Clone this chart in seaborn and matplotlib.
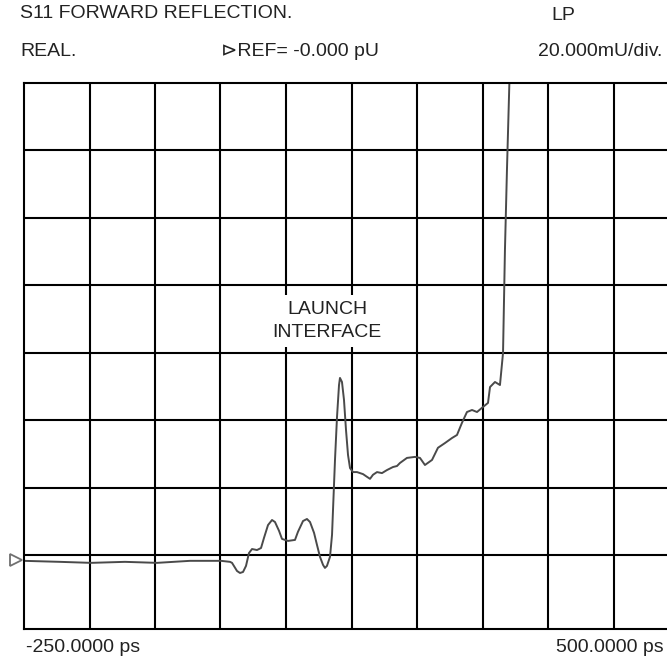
import matplotlib
matplotlib.use('Agg')
import matplotlib.pyplot as plt
import seaborn as sns
import pandas as pd

# trace: time in ps, real part in mU
time_ps = [-250.0, -208.8, -173.3, -134.4, -97.7, -59.9, -24.4, -14.1, -11.8, -6.1,
           -2.7, 0.8, 4.2, 7.6, 11.1, 16.8, 21.4, 24.8, 29.4, 34.0,
           37.4, 42.0, 45.4, 52.3, 60.3, 63.7, 69.5, 74.0, 77.5, 82.1,
           85.5, 88.9, 92.4, 94.6, 96.9, 100.4, 102.7, 106.1, 108.4, 110.7,
           111.8, 114.1, 116.4, 118.7, 121.0, 123.3, 126.7, 131.3, 138.2, 142.7,
           146.2, 149.6, 154.2, 159.9, 165.6, 172.5, 177.1, 180.5, 188.5, 197.7,
           203.4, 209.1, 217.2, 224.0, 232.0, 240.1, 245.8, 251.5, 257.2, 263.0,
           268.7, 275.6, 281.3, 283.6, 289.3, 295.0, 298.5, 300.7, 303.0, 306.5]
real_mU = [-1.6, -1.9, -2.2, -1.9, -2.2, -1.6, -1.6, -1.9, -2.2, -4.6,
           -5.2, -4.9, -3.1, 0.7, 1.9, 1.6, 2.2, 5.2, 9.0, 10.5,
           9.9, 7.3, 4.9, 4.3, 4.6, 7.0, 10.2, 10.8, 9.9, 6.7,
           3.1, -0.4, -2.8, -3.7, -3.1, -0.4, 6.1, 28.3, 41.0, 50.5,
           52.6, 51.4, 46.1, 37.2, 29.8, 25.9, 24.7, 24.7, 24.1, 23.3,
           22.7, 23.9, 24.7, 24.4, 25.3, 26.2, 26.5, 27.4, 28.9, 29.2,
           28.9, 26.8, 28.3, 31.9, 33.3, 34.8, 35.7, 39.3, 42.5, 43.1,
           42.5, 44.0, 45.2, 49.9, 51.4, 50.5, 60.0, 90.5, 114.2, 146.8]

x_start, x_stop = -250, 500
x_grid = [-175, -100, -25, 50, 125, 200, 275, 350, 425]
y_grid = [0, 20, 40, 60, 80, 100, 120]

df = pd.DataFrame({'time': time_ps, 'real': real_mU})

sns.set_style('white')
plt.rcParams['font.family'] = ['Liberation Sans', 'DejaVu Sans']

fig = plt.figure(figsize=(6.67, 6.65), dpi=100)
ax = fig.add_axes([24 / 667, 36 / 665, 655 / 667, 546 / 665])

sns.lineplot(data=df, x='time', y='real', sort=False, estimator=None,
             color='#4a4a4a', linewidth=1.4, ax=ax)
ax.lines[0].set_solid_joinstyle('round')

ax.set_xlim(x_start, x_stop)
ax.set_ylim(-21.8, 140)
ax.set_xticks(x_grid)
ax.set_yticks(y_grid)
ax.grid(True, color='black', linewidth=1.5)
ax.tick_params(length=0, labelbottom=False, labelleft=False)
ax.set_xlabel('')
ax.set_ylabel('')
for s in ax.spines.values():
    s.set_color('black')
    s.set_linewidth(1.5)

# reference marker on the left
ax.plot([-259], [-1.5], marker='>', markersize=9, markerfacecolor='white',
        markeredgecolor='#707070', markeredgewidth=1.3, clip_on=False)

# annotation sits on a white patch that hides the grid behind it
ax.text(97, 69.5, 'LAUNCH\nINTERFACE', ha='center', va='center',
        fontsize=14, linespacing=1.45, color='#222222', zorder=5,
        bbox=dict(facecolor='white', edgecolor='none', pad=4.5))

def ftext(x, y, s, ha='left', size=14):
    fig.text(x / 667, 1 - y / 665, s, ha=ha, va='center', fontsize=size, color='#222222')

ftext(20, 14, 'S11 FORWARD REFLECTION.')
ftext(563, 16, 'LP', ha='center')
ftext(20, 51, 'REAL.')
ftext(300, 51, '\u22b3REF= -0.000 pU', ha='center')
ftext(662, 51, '20.000mU/div.', ha='right')
ftext(26, 647, '-250.0000 ps')
ftext(664, 647, '500.0000 ps', ha='right')

fig.savefig('out.png', dpi=100)
